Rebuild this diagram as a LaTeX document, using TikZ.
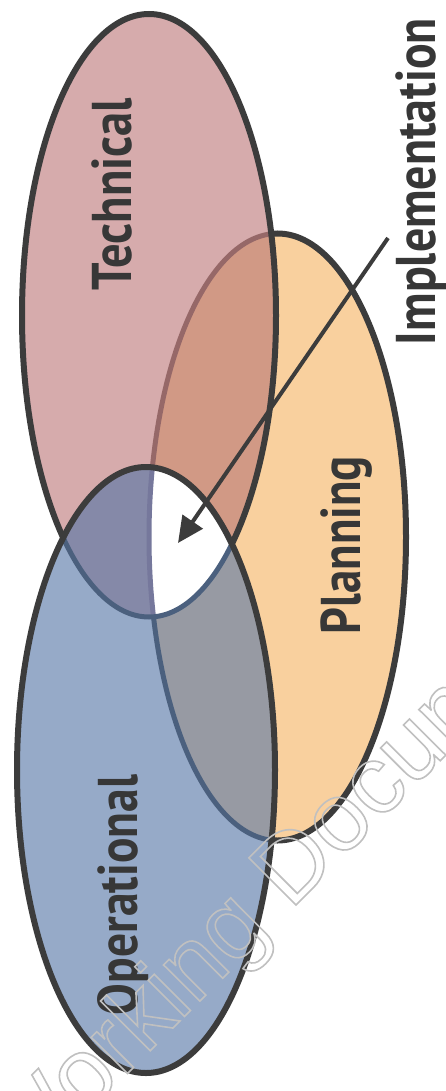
\documentclass[tikz,border=0pt]{standalone}
\usepackage{fontspec}
\setmainfont{PT Sans}
\newfontfamily\wmfont{Liberation Sans}
\usetikzlibrary{arrows.meta}
\definecolor{techfill}{RGB}{214,171,172}
\definecolor{planfill}{RGB}{249,208,158}
\definecolor{opfill}{RGB}{150,170,200}
\definecolor{tpfill}{RGB}{209,153,133}
\definecolor{tofill}{RGB}{133,137,168}
\definecolor{pofill}{RGB}{151,154,163}
\definecolor{outl}{RGB}{60,60,60}
\definecolor{brownl}{RGB}{150,104,104}
\definecolor{bluel}{RGB}{75,96,126}
\definecolor{purpl}{RGB}{118,120,156}
\definecolor{wmgray}{RGB}{192,192,192}
\definecolor{labeltext}{RGB}{55,55,55}
\begin{document}
\begin{tikzpicture}[x=1pt,y=-1pt,
  edge/.style={line width=6pt,draw=outl},
  inner/.style={line width=5pt},
  lab/.style={rotate=90,anchor=base west,inner sep=0pt,outer sep=0pt,text=labeltext,
    font=\fontsize{56}{56}\selectfont\bfseries},
  arrowline/.style={line width=4pt,draw=outl,-{Triangle[length=26pt,width=24pt]}}]
\def\techpath{(149,315.5) ellipse [x radius=127,y radius=301.5]}
\def\planpath{(277.5,537) ellipse [x radius=128.5,y radius=303.5]}
\def\oppath{(146,770) ellipse [x radius=129,y radius=303]}
\def\bigbox{(-20,-20) rectangle (465,1111)}
\useasboundingbox (0,0) rectangle (445,1091);
\fill[white] (0,0) rectangle (445,1091);
% base fills
\fill[planfill] \planpath;
\fill[techfill] \techpath;
\fill[opfill] \oppath;
% overlaps
\begin{scope}\clip \techpath; \fill[tpfill] \planpath; \end{scope}
\begin{scope}\clip \techpath; \fill[tofill] \oppath; \end{scope}
\begin{scope}\clip \planpath; \fill[pofill] \oppath; \end{scope}
\begin{scope}\clip \techpath; \clip \planpath; \fill[white] \oppath; \end{scope}
% planning outline
\begin{scope}[even odd rule]\clip \bigbox \techpath; \clip \bigbox \oppath;
  \draw[edge] \planpath; \end{scope}
\begin{scope}[even odd rule]\clip \techpath; \clip \bigbox \oppath;
  \draw[inner,brownl] \planpath; \end{scope}
\begin{scope}[even odd rule]\clip \oppath; \clip \bigbox \techpath;
  \draw[inner,bluel] \planpath; \end{scope}
\begin{scope}\clip \techpath; \clip \oppath;
  \draw[inner,purpl] \planpath; \end{scope}
% technical outline
\begin{scope}[even odd rule]\clip \bigbox \oppath; \draw[edge] \techpath; \end{scope}
\begin{scope}\clip \oppath; \draw[inner,bluel] \techpath; \end{scope}
% operational outline
\draw[edge] \oppath;
% arrow
\coordinate (arrowstart) at (388,238);
\coordinate (centre) at (178,543);
\draw[arrowline] (arrowstart) -- (centre);
% labels
\node[lab] (technical) at (131,290) {\resizebox{192pt}{\height}{Technical}};
\node[lab] (planning) at (360,634) {\resizebox{178pt}{\height}{Planning}};
\node[lab] (operational) at (137,1015) {\resizebox{240pt}{\height}{Operational}};
\node[lab] (implementation) at (435,345) {\resizebox{327pt}{\height}{Implementation}};
% watermark
\node[rotate=45,anchor=base west,inner sep=0pt,text=wmgray,
  font=\wmfont\fontsize{97}{97}\selectfont] (watermark) at (21,1180)
  {\special{pdf:literal direct 1 Tr 1.6 w}Working Document\special{pdf:literal direct 0 Tr}};
\end{tikzpicture}
\end{document}
